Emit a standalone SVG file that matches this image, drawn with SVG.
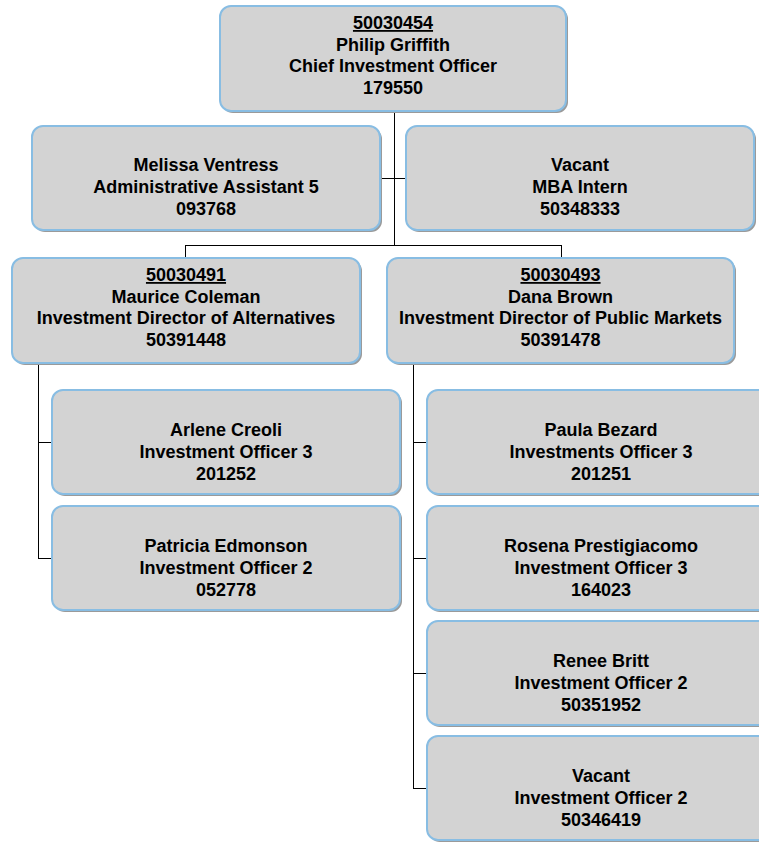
<svg xmlns="http://www.w3.org/2000/svg" width="759" height="842" viewBox="0 0 759 842">
<style>
.sh{fill:#9a9a9a;}
.bx{fill:#d3d3d3;stroke:#88bde3;stroke-width:2;}
.t{font-family:"Liberation Sans",Arial,sans-serif;font-weight:bold;font-size:18px;fill:#000;text-anchor:middle;}
.u{text-decoration:underline;}
.ln{stroke:#000;stroke-width:1;fill:none;}
</style>
<rect width="759" height="842" fill="#fff"/>
<g id="connectors">
<path class="ln" d="M394.5 111V245.5M380 178.5H406M185.5 245.5H561.5M185.5 245V258M561.5 245V258"/>
<path class="ln" d="M38.5 363V558.5M38 442.5H52M38 558.5H52"/>
<path class="ln" d="M413.5 363V788.5M413 442.5H427M413 558.5H427M413 673.5H427M413 788.5H427"/>
</g>
<g id="n_griffith">
<rect class="sh" x="222" y="8" width="346" height="105" rx="11"/>
<rect class="bx" x="220" y="6" width="346" height="105" rx="11"/>
<text class="t u" x="393" y="29">50030454</text>
<text class="t" x="393" y="50.5">Philip Griffith</text>
<text class="t" x="393" y="72">Chief Investment Officer</text>
<text class="t" x="393" y="93.5">179550</text>
</g>
<g id="n_ventress">
<rect class="sh" x="34" y="128" width="348" height="104" rx="11"/>
<rect class="bx" x="32" y="126" width="348" height="104" rx="11"/>
<text class="t" x="206" y="171">Melissa Ventress</text>
<text class="t" x="206" y="193">Administrative Assistant 5</text>
<text class="t" x="206" y="215">093768</text>
</g>
<g id="n_intern">
<rect class="sh" x="408" y="128" width="348" height="104" rx="11"/>
<rect class="bx" x="406" y="126" width="348" height="104" rx="11"/>
<text class="t" x="580" y="171">Vacant</text>
<text class="t" x="580" y="193">MBA Intern</text>
<text class="t" x="580" y="215">50348333</text>
</g>
<g id="n_coleman">
<rect class="sh" x="14" y="260" width="348" height="105" rx="11"/>
<rect class="bx" x="12" y="258" width="348" height="105" rx="11"/>
<text class="t u" x="186" y="281">50030491</text>
<text class="t" x="186" y="302.5">Maurice Coleman</text>
<text class="t" x="186" y="324">Investment Director of Alternatives</text>
<text class="t" x="186" y="345.5">50391448</text>
</g>
<g id="n_brown">
<rect class="sh" x="389" y="260" width="347" height="105" rx="11"/>
<rect class="bx" x="387" y="258" width="347" height="105" rx="11"/>
<text class="t u" x="560.5" y="281">50030493</text>
<text class="t" x="560.5" y="302.5">Dana Brown</text>
<text class="t" x="560.5" y="324">Investment Director of Public Markets</text>
<text class="t" x="560.5" y="345.5">50391478</text>
</g>
<g id="n_creoli">
<rect class="sh" x="54" y="392" width="348" height="104" rx="11"/>
<rect class="bx" x="52" y="390" width="348" height="104" rx="11"/>
<text class="t" x="226" y="436">Arlene Creoli</text>
<text class="t" x="226" y="458">Investment Officer 3</text>
<text class="t" x="226" y="480">201252</text>
</g>
<g id="n_edmonson">
<rect class="sh" x="54" y="508" width="348" height="104" rx="11"/>
<rect class="bx" x="52" y="506" width="348" height="104" rx="11"/>
<text class="t" x="226" y="552">Patricia Edmonson</text>
<text class="t" x="226" y="574">Investment Officer 2</text>
<text class="t" x="226" y="596">052778</text>
</g>
<g id="n_bezard">
<rect class="sh" x="429" y="392" width="348" height="104" rx="11"/>
<rect class="bx" x="427" y="390" width="348" height="104" rx="11"/>
<text class="t" x="601" y="436">Paula Bezard</text>
<text class="t" x="601" y="458">Investments Officer 3</text>
<text class="t" x="601" y="480">201251</text>
</g>
<g id="n_prestigiacomo">
<rect class="sh" x="429" y="508" width="348" height="104" rx="11"/>
<rect class="bx" x="427" y="506" width="348" height="104" rx="11"/>
<text class="t" x="601" y="552">Rosena Prestigiacomo</text>
<text class="t" x="601" y="574">Investment Officer 3</text>
<text class="t" x="601" y="596">164023</text>
</g>
<g id="n_britt">
<rect class="sh" x="429" y="623" width="348" height="104" rx="11"/>
<rect class="bx" x="427" y="621" width="348" height="104" rx="11"/>
<text class="t" x="601" y="667">Renee Britt</text>
<text class="t" x="601" y="689">Investment Officer 2</text>
<text class="t" x="601" y="711">50351952</text>
</g>
<g id="n_vacant_io2">
<rect class="sh" x="429" y="738" width="348" height="104" rx="11"/>
<rect class="bx" x="427" y="736" width="348" height="104" rx="11"/>
<text class="t" x="601" y="782">Vacant</text>
<text class="t" x="601" y="804">Investment Officer 2</text>
<text class="t" x="601" y="826">50346419</text>
</g>
</svg>
